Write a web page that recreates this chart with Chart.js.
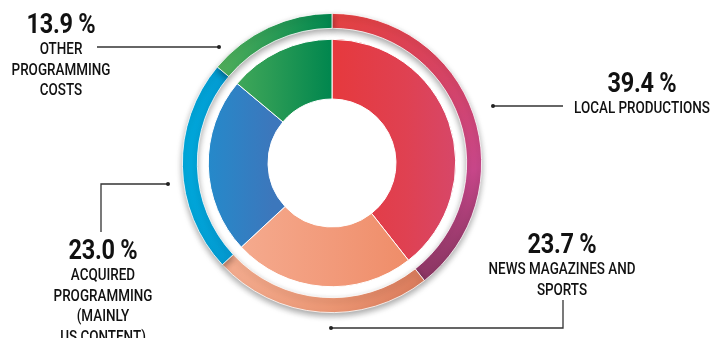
<!DOCTYPE html>
<html>
<head>
<meta charset="utf-8">
<script src="https://cdn.jsdelivr.net/npm/chart.js@4.4.1/dist/chart.umd.min.js"></script>
<style>
  html, body { margin: 0; padding: 0; background: #fff; }
  #wrap { position: relative; width: 722px; height: 338px; overflow: hidden; }
  canvas { position: absolute; left: 0; top: 0; }
  .lbl {
    position: absolute; text-align: center; color: #111;
    font-family: "Roboto", "DejaVu Sans Condensed", sans-serif; font-weight: 500;
    font-size: 16px; line-height: 20.5px; white-space: nowrap;
    transform: translateX(-50%) scaleX(0.84);
  }
  .lbl b { display: block; font-weight: 700; font-size: 28px; line-height: 26px; margin-bottom: 2px; letter-spacing: -0.3px; }
</style>
</head>
<body>
<div id="wrap">
  <canvas id="donut" width="722" height="338"></canvas>
  <div class="lbl" style="left:61px; top:11px;"><b>13.9 %</b>OTHER<br>PROGRAMMING<br>COSTS</div>
  <div class="lbl" style="left:642px; top:70px;"><b>39.4 %</b>LOCAL PRODUCTIONS</div>
  <div class="lbl" style="left:103px; top:237px;"><b>23.0 %</b>ACQUIRED<br>PROGRAMMING<br>(MAINLY<br>US CONTENT)</div>
  <div class="lbl" style="left:562px; top:231px;"><b>23.7 %</b>NEWS MAGAZINES AND<br>SPORTS</div>
</div>
<script>
const categories = ["Local productions", "News magazines and sports", "Acquired programming (mainly US content)", "Other programming costs"];
const shares = [39.4, 23.7, 23.0, 13.9];

// gradient stops per slice (start, middle, end)
const innerColors = [
  ["#e6393d", "#df4152", "#d34a74"],
  ["#f5ab8f", "#f29a7a", "#ee8964"],
  ["#1c90d0", "#2c84c6", "#3c77bc"],
  ["#4fb05b", "#2a9b55", "#00864e"]
];
const outerColors = [
  ["#e5413f", "#c8478a", "#8c3764"],
  ["#f2aa8d", "#eb9673", "#d8795a"],
  ["#00a9dc", "#049ad1", "#0a8cc6"],
  ["#56b15c", "#2c9c56", "#00874f"]
];

// leader lines: points, dot at first point
const leaders = [
  [[219, 47], [97, 47]],
  [[493, 106], [563, 106]],
  [[168, 184], [101, 184], [101, 232]],
  [[331, 328], [563, 328], [563, 300]]
];

function sliceGradient(colors, outer) {
  return (c) => {
    const area = c.chart.chartArea;
    if (!area) return colors[c.dataIndex][0];
    const cx = (area.left + area.right) / 2;
    const cy = (area.top + area.bottom) / 2;
    const r = (area.right - area.left) / 2;
    const spans = [
      outer ? [cx, cy - r, cx + r * 0.75, cy + r * 0.7] : [cx, cy, cx + r, cy],
      [cx - r * 0.65, cy, cx + r * 0.65, cy],
      [cx - r, cy, cx - r * 0.4, cy],
      [cx - r * 0.8, cy, cx, cy]
    ];
    const s = spans[c.dataIndex];
    const g = c.chart.ctx.createLinearGradient(s[0], s[1], s[2], s[3]);
    const col = colors[c.dataIndex];
    g.addColorStop(0, col[0]);
    g.addColorStop(outer && c.dataIndex === 0 ? 0.72 : 0.5, col[1]);
    g.addColorStop(1, col[2]);
    return g;
  };
}

const extras = {
  id: "extras",
  beforeDatasetDraw(chart, args) {
    if (args.index === 0) {
      const ctx = chart.ctx;
      ctx.save();
      ctx.shadowColor = "rgba(0,0,0,0.35)";
      ctx.shadowBlur = 6;
      ctx.shadowOffsetY = 3;
    }
  },
  afterDatasetDraw(chart, args) {
    if (args.index === 0) chart.ctx.restore();
  },
  afterDraw(chart) {
    const ctx = chart.ctx;
    ctx.save();
    ctx.strokeStyle = "#333";
    ctx.fillStyle = "#222";
    ctx.lineWidth = 1.3;
    leaders.forEach((pts) => {
      ctx.beginPath();
      pts.forEach((p, i) => (i ? ctx.lineTo(p[0], p[1]) : ctx.moveTo(p[0], p[1])));
      ctx.stroke();
      ctx.beginPath();
      ctx.arc(pts[0][0], pts[0][1], 2, 0, Math.PI * 2);
      ctx.fill();
    });
    ctx.restore();
  }
};

new Chart(document.getElementById("donut"), {
  type: "doughnut",
  data: {
    labels: categories,
    datasets: [
      { data: shares, weight: 15, backgroundColor: sliceGradient(outerColors, true), borderColor: "#fff", borderWidth: 0.8 },
      { data: shares, weight: 11, backgroundColor: "rgba(0,0,0,0)", borderWidth: 0 },
      { data: shares, weight: 60, backgroundColor: sliceGradient(innerColors, false), borderColor: "#fff", borderWidth: 1 }
    ]
  },
  options: {
    responsive: false,
    animation: false,
    cutout: 64,
    layout: { padding: { left: 182, right: 240, top: 13, bottom: 25 } },
    plugins: { legend: { display: false }, tooltip: { enabled: false } }
  },
  plugins: [extras]
});
</script>
</body>
</html>
